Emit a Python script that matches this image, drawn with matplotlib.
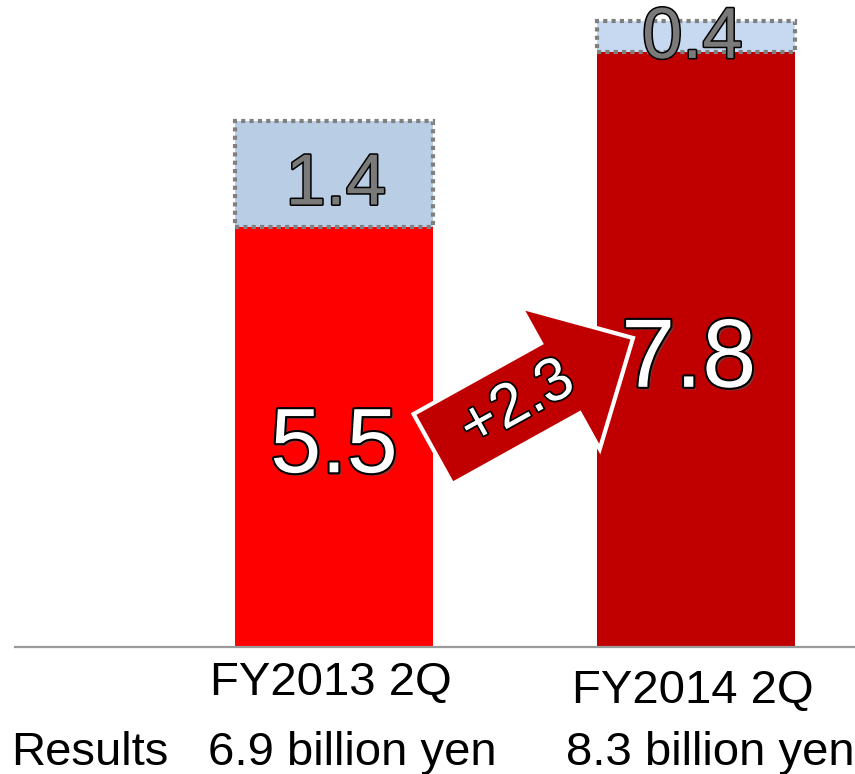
import matplotlib
matplotlib.use("Agg")
import matplotlib.pyplot as plt
import matplotlib.patheffects as pe
from matplotlib.patches import FancyArrow
from matplotlib.transforms import Affine2D

# values
categories = ["FY2013 2Q", "FY2014 2Q"]
base_values = [5.5, 7.8]
top_values = [1.4, 0.4]
totals = ["6.9 billion yen", "8.3 billion yen"]
row_label = "Results"
diff_label = "+2.3"

base_colors = ["#ff0000", "#c00000"]
top_colors = ["#b9cde5", "#c6d9f1"]

plt.rcParams['font.family'] = ['Liberation Sans', 'DejaVu Sans']

W, H = 855, 774
fig = plt.figure(figsize=(W / 100, H / 100), dpi=100)
# axes spans full width, baseline at pixel row 647
ax = fig.add_axes([0, 1 - 647 / H, 1, 647 / H])
px_per_unit = 76.3
ax.set_ylim(0, 647 / px_per_unit)
spacing = 362.0
ax.set_xlim(-334 / spacing, (W - 334) / spacing)
ax.axis('off')

x = [0, 1]
bw = 198 / spacing
ax.bar(x, base_values, width=bw, color=base_colors, zorder=2)
ax.bar(x, top_values, width=bw, bottom=base_values, color=top_colors,
       edgecolor="#808080", linewidth=3, linestyle=(0, (1, 1)), zorder=2)

ax.axhline(0, xmin=15 / W, xmax=1, color="#9a9a9a", linewidth=1.6, zorder=3, clip_on=False)

white_fx = [pe.withSimplePatchShadow(offset=(2, -2), shadow_rgbFace="#555555", alpha=0.6),
            pe.Stroke(linewidth=3, foreground="black"), pe.Normal()]
gray_fx = [pe.Stroke(linewidth=2.2, foreground="black"), pe.Normal()]

# base value labels
ax.text(0, 2.29, f"{base_values[0]}", ha='center', va='baseline', fontsize=66,
        color='white', path_effects=white_fx, zorder=5)
ax.text(0.98, 3.41, f"{base_values[1]}", ha='center', va='baseline', fontsize=70,
        color='white', path_effects=white_fx, zorder=5)
# top segment labels
ax.text(0.005, 5.8, f"{top_values[0]}", ha='center', va='baseline', fontsize=52,
        color='#7a7a7a', path_effects=gray_fx, zorder=5)
ax.text(0.99, 7.72, f"{top_values[1]}", ha='center', va='baseline', fontsize=52,
        color='#7a7a7a', path_effects=gray_fx, zorder=5)

# category labels under bars
ax.text(-0.01, -0.63, categories[0], ha='center', va='baseline', fontsize=34, clip_on=False)
ax.text(0.99, -0.73, categories[1], ha='center', va='baseline', fontsize=34, clip_on=False)

# results row
ax.text(-0.892, -1.55, row_label, ha='left', va='baseline', fontsize=34, clip_on=False)
ax.text(0.05, -1.55, totals[0], ha='center', va='baseline', fontsize=34, clip_on=False)
ax.text(1.04, -1.55, totals[1], ha='center', va='baseline', fontsize=34, clip_on=False)

# increase arrow, drawn in image pixel space (y downwards)
pix = Affine2D().scale(1 / W, -1 / H).translate(0, 1) + fig.transFigure
arrow = FancyArrow(433, 449, 200, -111, width=80, head_width=162, head_length=83,
                   length_includes_head=True, facecolor="#c00000", edgecolor="white",
                   linewidth=3, transform=pix, zorder=4)
fig.add_artist(arrow)
fig.text(518 / W, 1 - 405 / H, diff_label, rotation=29, ha='center', va='center',
         rotation_mode='anchor', fontsize=44, color='white',
         path_effects=[pe.Stroke(linewidth=2.5, foreground="black"), pe.Normal()], zorder=6)

fig.savefig("out.png", dpi=100)
